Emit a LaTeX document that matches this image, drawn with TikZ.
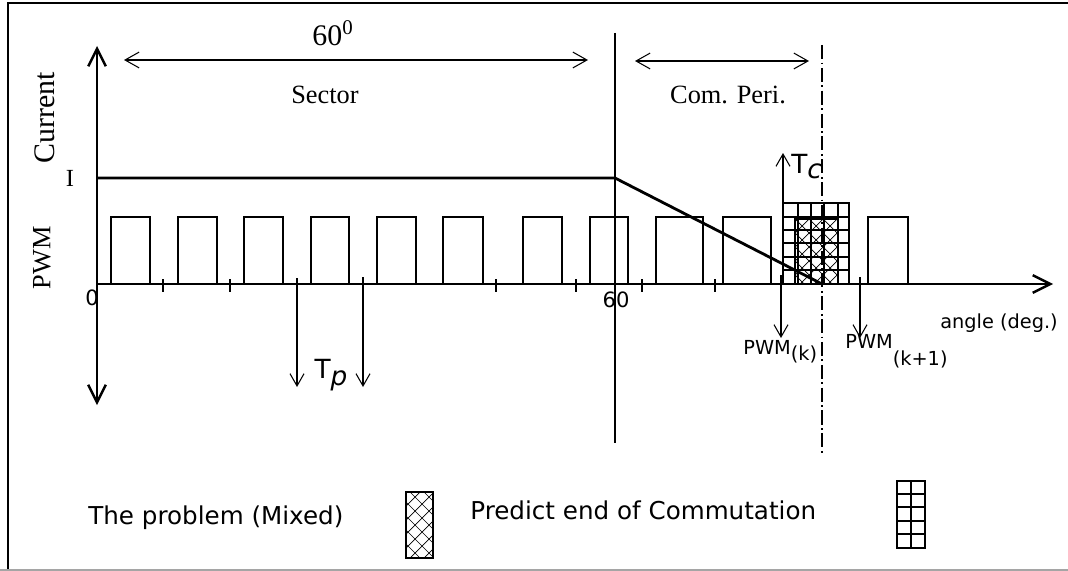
\documentclass[tikz,border=0pt]{standalone}
\usepackage{fontspec}
\setmainfont{Liberation Serif}
\newfontfamily\guisans{DejaVu Sans}
\usepackage{tikz}
\usetikzlibrary{arrows.meta}
\definecolor{inkDark}{RGB}{0,0,0}
\definecolor{frameGray}{RGB}{165,165,165}

\tikzset{
  axisline/.style={line width=1.4pt, {Straight Barb[length=10pt,width=10pt,line width=1.4pt]}-{Straight Barb[length=10pt,width=10pt,line width=1.4pt]}},
  pulseline/.style={line width=1.6pt},
  thinarrow/.style={line width=0.6pt, -{Straight Barb[length=7pt,width=8pt]}},
  spanarrow/.style={line width=0.6pt, {Straight Barb[length=8pt,width=9pt]}-{Straight Barb[length=8pt,width=9pt]}},
  hatchline/.style={line width=0.4pt},
  gridline/.style={line width=1.1pt},
  serifbig/.style={font=\fontsize{15}{17}\selectfont},
  sanslabel/.style={font=\guisans\fontsize{11}{13}\selectfont}
}

\begin{document}
\begin{tikzpicture}[x=0.02cm, y=-0.02cm, every node/.style={text=inkDark, inner sep=0pt}]
\useasboundingbox (0,0) rectangle (1068,571);

% Frame
\draw[line width=0.6pt] (8,571) -- (8,3) -- (1068,3);
\draw[frameGray, line width=1pt] (0,570) -- (1068,570);

% Axes
\coordinate (yTop) at (97,46);
\coordinate (yBottom) at (97,405);
\coordinate (origin) at (97,284);
\coordinate (xEnd) at (1053,284);
\draw[axisline] (yBottom) -- (yTop);
\draw[line width=1.4pt, -{Straight Barb[length=10pt,width=10pt,line width=1.4pt]}] (origin) -- (xEnd);

\node[rotate=90, font=\fontsize{17}{19}\selectfont] (curLabel) at (45,118) {Current};
\node[rotate=90, serifbig] (pwmLabel) at (42,258) {PWM};
\node[font=\fontsize{14}{16}\selectfont] (levelI) at (70,178) {I};
\node[font=\guisans\fontsize{12}{14}\selectfont] (zeroLabel) at (92,298) {0};
\node[font=\guisans\fontsize{12}{14}\selectfont] (sixtyLabel) at (616,300) {60};
\node[sanslabel, anchor=west] (angleLabel) at (940,323) {angle (deg.)};

% Ticks
\foreach \tx in {163,230,496,576,642,715}
  \draw[line width=0.6pt] (\tx,279) -- (\tx,292);

% Sector and commutation limits
\coordinate (sixtyTop) at (615,33);
\coordinate (sixtyBottom) at (615,443);
\draw[line width=0.6pt] (sixtyTop) -- (sixtyBottom);
\coordinate (endTop) at (822,45);
\coordinate (endBottom) at (822,455);
\draw[line width=0.6pt, dash pattern={on 8pt off 2pt on 1pt off 2pt}] (endTop) -- (endBottom);

\coordinate (sectorLeft) at (124,60);
\coordinate (sectorRight) at (588,60);
\draw[spanarrow] (sectorLeft) -- (sectorRight);
\node[font=\fontsize{17}{19}\selectfont] (sixtyDeg) at (333,33) {60\textsuperscript{0}};
\node[serifbig] (sectorLabel) at (325,95) {Sector};

\coordinate (comLeft) at (635,61);
\coordinate (comRight) at (809,61);
\draw[spanarrow] (comLeft) -- (comRight);
\node[serifbig] (comLabel) at (728,95) {Com. Peri.};

% PWM pulses
\foreach \xa/\xb in {111/150,178/217,244/283,311/349,377/416,443/483,523/562,590/628,656/703,723/771,868/908}
  \draw[pulseline] (\xa,284) -- (\xa,217) -- (\xb,217) -- (\xb,284);

% Predicted end of commutation (grid)
\foreach \gx in {798,811,824,838}
  \draw[gridline] (\gx,203) -- (\gx,284);
\foreach \gy in {217,230,243,257,270}
  \draw[gridline] (783,\gy) -- (849,\gy);
\draw[pulseline] (783,284) -- (783,203) -- (849,203) -- (849,284);

% The problem (crosshatch)
\begin{scope}
  \clip (795,219) rectangle (838,284);
  \foreach \k in {0,...,9} {
    \draw[hatchline] (725+14*\k,219) -- ++(70,70);
    \draw[hatchline] (795+14*\k,219) -- ++(-70,70);
  }
\end{scope}
\draw[pulseline] (795,284) -- (795,219) -- (838,219) -- (838,284);

% Current
\coordinate (curStart) at (97,178);
\coordinate (curKnee) at (615,178);
\coordinate (curEnd) at (822,284);
\draw[line width=1.6pt] (curStart) -- (curKnee) -- (curEnd);

% Periods
\coordinate (tpA) at (297,278);
\coordinate (tpAend) at (297,387);
\coordinate (tpB) at (363,277);
\coordinate (tpBend) at (363,387);
\draw[thinarrow] (tpA) -- (tpAend);
\draw[thinarrow] (tpB) -- (tpBend);
\node[font=\guisans\fontsize{15}{17}\selectfont] (tpLabel) at (331,375) {T\raisebox{-0.5ex}{\itshape p}};

\coordinate (tcBase) at (783,203);
\coordinate (tcTip) at (783,153);
\draw[thinarrow] (tcBase) -- (tcTip);
\node[font=\guisans\fontsize{15}{17}\selectfont, anchor=west] (tcLabel) at (791,167) {T\raisebox{-0.35ex}{\itshape c}};

\coordinate (pwmkTop) at (781,275);
\coordinate (pwmkEnd) at (781,338);
\draw[thinarrow] (pwmkTop) -- (pwmkEnd);
\node[sanslabel, anchor=west] (pwmkLabel) at (743,352) {PWM\raisebox{-0.6ex}{(k)}};

\coordinate (pwmnTop) at (860,277);
\coordinate (pwmnEnd) at (860,338);
\draw[thinarrow] (pwmnTop) -- (pwmnEnd);
\node[sanslabel, anchor=west] (pwmnLabel) at (845,351) {PWM\raisebox{-1.6ex}{(k+1)}};

% Legend
\node[font=\guisans\fontsize{14}{16}\selectfont, anchor=west] (legProblem) at (88,518) {The problem (Mixed)};
\begin{scope}
  \clip (406,492) rectangle (433,558);
  \foreach \k in {0,...,8} {
    \draw[hatchline] (340+14*\k,492) -- ++(70,70);
    \draw[hatchline] (406+14*\k,492) -- ++(-70,70);
  }
\end{scope}
\draw[pulseline] (406,492) rectangle (433,558);

\node[font=\guisans\fontsize{14}{16}\selectfont, anchor=west] (legPredict) at (470,510) {Predict end of Commutation};
\draw[gridline] (911,481) -- (911,548);
\foreach \gy in {494,507,521,534}
  \draw[gridline] (897,\gy) -- (925,\gy);
\draw[pulseline] (897,481) rectangle (925,548);

\end{tikzpicture}
\end{document}
